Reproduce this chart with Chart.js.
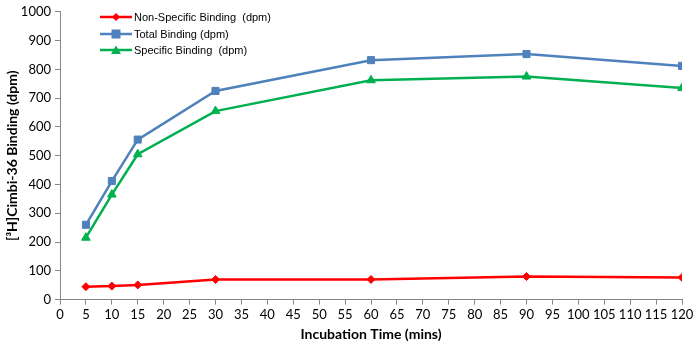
<!DOCTYPE html>
<html>
<head>
<meta charset="utf-8">
<script src="https://cdn.jsdelivr.net/npm/chart.js@4.4.0/dist/chart.umd.min.js"></script>
<style>
  html, body { margin: 0; padding: 0; background: #fff; }
  #wrap { position: relative; width: 700px; height: 351px; }
  #legend { position: absolute; left: 100px; top: 9px; font-family: "Liberation Sans", Arial, sans-serif; font-size: 11px; color: #000; white-space: pre; }
  #legend div { display: flex; align-items: center; height: 16.5px; }
  #legend svg { margin-right: 2px; }
</style>
</head>
<body>
<div id="wrap">
  <canvas id="chart" width="700" height="351"></canvas>
  <div id="legend"></div>
</div>
<script>
const times = [5, 10, 15, 30, 60, 90, 120];
const nonSpecific = [45, 47, 51, 70, 70, 80, 77];
const total = [260, 412, 556, 725, 832, 853, 812];
const specific = [215, 365, 505, 655, 762, 775, 735];
const seriesNames = ['Non-Specific Binding  (dpm)', 'Total Binding (dpm)', 'Specific Binding  (dpm)'];
const colors = ['#FF0000', '#4F81BD', '#00B050'];
const markers = ['rectRot', 'rect', 'triangle'];

const toPoints = vals => vals.map((v, i) => ({ x: times[i], y: v }));

const datasets = [nonSpecific, total, specific].map((vals, i) => ({
    label: seriesNames[i],
    data: toPoints(vals),
    borderColor: colors[i],
    backgroundColor: colors[i],
    borderWidth: 2.5,
    pointStyle: markers[i],
    pointRadius: i === 0 ? 4 : 5,
    pointBorderWidth: 1,
    tension: 0
}));

// legend drawn as html, swatch = line + marker
const legendEl = document.getElementById('legend');
const swatch = (i) => {
    let m;
    if (i === 0) m = '<polygon points="16,1 20,5 16,9 12,5" fill="' + colors[i] + '"/>';
    else if (i === 1) m = '<rect x="11.5" y="0.5" width="9" height="9" fill="' + colors[i] + '"/>';
    else m = '<polygon points="16,0.5 21,9 11,9" fill="' + colors[i] + '"/>';
    return '<svg width="32" height="10"><line x1="0" y1="5" x2="32" y2="5" stroke="' + colors[i] + '" stroke-width="2.5"/>' + m + '</svg>';
};
legendEl.innerHTML = seriesNames.map((n, i) => `<div>${swatch(i)}<span>${n}</span></div>`).join('');

const tickFont = { family: 'Lato, "Open Sans", sans-serif', size: 13 };
const titleFont = { family: 'Lato, "Open Sans", sans-serif', size: 14, weight: 'bold' };

new Chart(document.getElementById('chart'), {
    type: 'line',
    data: { datasets },
    options: {
        responsive: false,
        animation: false,
        layout: { padding: { top: 6, right: 18, left: 0, bottom: 4 } },
        plugins: { legend: { display: false }, tooltip: { enabled: false } },
        scales: {
            x: {
                type: 'linear',
                min: 0, max: 120,
                ticks: { stepSize: 5, color: '#000', font: tickFont, padding: 2, maxRotation: 0, autoSkip: false },
                grid: { drawOnChartArea: false, tickLength: 5, color: '#868686' },
                border: { color: '#868686', width: 1 },
                title: { display: true, text: 'Incubation Time (mins)', color: '#000', font: titleFont, padding: { top: 2 } }
            },
            y: {
                min: 0, max: 1000,
                afterFit: s => { s.width = 60; },
                ticks: { stepSize: 100, color: '#000', font: tickFont, padding: 4, callback: v => String(v) },
                grid: { drawOnChartArea: false, tickLength: 5, color: '#868686' },
                border: { color: '#868686', width: 1 },
                title: { display: true, text: '[³H]Cimbi-36 Binding (dpm)', color: '#000', font: titleFont, padding: { bottom: 2 } }
            }
        }
    }
});
</script>
</body>
</html>
